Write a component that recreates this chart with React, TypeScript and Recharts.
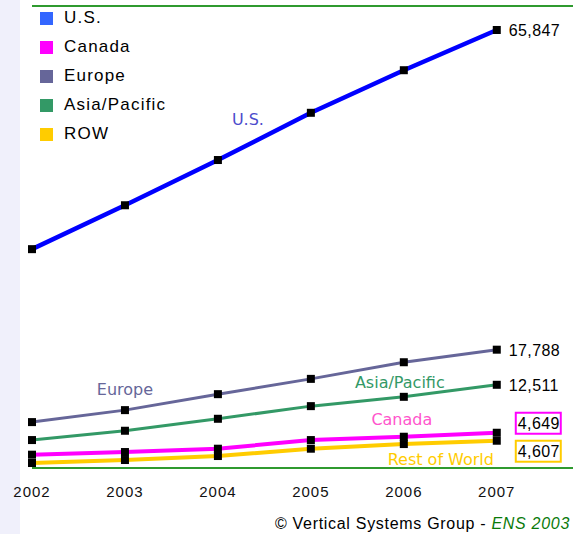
import React from "react";
import {
  LineChart,
  Line,
  XAxis,
  YAxis,
  ReferenceLine,
  LabelList,
} from "recharts";

const years = [2002, 2003, 2004, 2005, 2006, 2007];
const us = [32900, 39500, 46300, 53400, 59800, 65847];
const europe = [6900, 8700, 11100, 13400, 15900, 17788];
const asia = [4200, 5600, 7400, 9300, 10700, 12511];
const canada = [2000, 2400, 2900, 4200, 4700, 5300];
const row = [750, 1200, 1800, 2900, 3600, 4100];

const legendNames = ["U.S.", "Canada", "Europe", "Asia/Pacific", "ROW"];
const endLabels = ["65,847", "17,788", "12,511", "4,649", "4,607"];
const lineNames = ["U.S.", "Europe", "Asia/Pacific", "Canada", "Rest of World"];

const data = years.map((y, i) => ({
  year: y,
  us: us[i],
  europe: europe[i],
  asia: asia[i],
  canada: canada[i],
  row: row[i],
}));

const FRAME = "#2f9a2f";
const legendColors = ["#3366ff", "#ff00ff", "#666699", "#339966", "#ffcc00"];

const Dot = (props: any) => {
  const { cx, cy } = props;
  if (cx == null || cy == null) return null;
  return <rect x={cx - 4} y={cy - 4} width={8} height={8} fill="#000" />;
};

// label drawn next to the last point
const endLabel = (text: string, dy: number, box?: string) => (props: any) => {
  const { x, y, index } = props;
  if (index !== years.length - 1) return null;
  const tx = x + (box ? 21 : 12);
  const ty = y + dy;
  return (
    <g>
      {box && (
        <rect x={tx - 2} y={ty - 10} width={45} height={21} fill="#fff" stroke={box} strokeWidth={2} />
      )}
      <text
        x={tx}
        y={ty}
        dy={6}
        fontFamily="'Liberation Sans', Arial, sans-serif"
        fontSize={16}
        letterSpacing={0.4}
        fill="#000"
      >
        {text}
      </text>
    </g>
  );
};

// series name written beside the line
const nameLabel = (text: string, at: number, dx: number, dy: number, color: string) => (props: any) => {
  const { x, y, index } = props;
  if (index !== at) return null;
  return (
    <text
      x={x + dx}
      y={y + dy}
      textAnchor="middle"
      dominantBaseline="middle"
      fontFamily="'DejaVu Sans', Verdana, sans-serif"
      fontSize={16}
      fill={color}
    >
      {text}
    </text>
  );
};

export default function App() {
  return (
    <div
      style={{
        position: "absolute",
        left: 0,
        top: 0,
        width: 573,
        height: 534,
        background: "#fff",
        overflow: "hidden",
      }}
    >
      <div
        style={{
          position: "absolute",
          left: 0,
          top: 0,
          width: 20,
          height: 534,
          background: "#f0f0fb",
        }}
      />
      <LineChart
        width={573}
        height={534}
        data={data}
        margin={{ top: 6, right: 0, bottom: 36, left: 32 }}
      >
        <XAxis
          dataKey="year"
          type="number"
          domain={[2002, 2007.82]}
          ticks={years}
          tick={{
            fill: "#111",
            fontSize: 15,
            letterSpacing: 1,
            fontFamily: "'Liberation Sans', Arial, sans-serif",
          }}
          tickLine={false}
          tickSize={0}
          tickMargin={18}
          axisLine={{ stroke: FRAME, strokeWidth: 2 }}
          height={30}
        />
        <YAxis
          type="number"
          domain={[0, 69455]}
          width={0}
          tick={false}
          tickLine={false}
          axisLine={{ stroke: FRAME, strokeWidth: 2 }}
        />
        <ReferenceLine y={69455} stroke={FRAME} strokeWidth={2} />
        <Line dataKey="row" stroke="#ffcc00" strokeWidth={4} dot={<Dot />} isAnimationActive={false}>
          <LabelList content={endLabel(endLabels[4], 10, "#ffcc00")} />
          <LabelList content={nameLabel(lineNames[4], 4, 37, 16, "#ffcc00")} />
        </Line>
        <Line dataKey="canada" stroke="#ff00ff" strokeWidth={4} dot={<Dot />} isAnimationActive={false}>
          <LabelList content={endLabel(endLabels[3], -10, "#ff00ff")} />
          <LabelList content={nameLabel(lineNames[3], 4, -2, -16, "#ff55cc")} />
        </Line>
        <Line dataKey="asia" stroke="#339966" strokeWidth={3} dot={<Dot />} isAnimationActive={false}>
          <LabelList content={endLabel(endLabels[2], 0)} />
          <LabelList content={nameLabel(lineNames[2], 4, -4, -13, "#339966")} />
        </Line>
        <Line dataKey="europe" stroke="#666699" strokeWidth={3} dot={<Dot />} isAnimationActive={false}>
          <LabelList content={endLabel(endLabels[1], 0)} />
          <LabelList content={nameLabel(lineNames[1], 1, 0, -20, "#666699")} />
        </Line>
        <Line dataKey="us" stroke="#0000ff" strokeWidth={4.5} dot={<Dot />} isAnimationActive={false}>
          <LabelList content={endLabel(endLabels[0], 0)} />
          <LabelList content={nameLabel(lineNames[0], 2, 30, -40, "#4c4ccc")} />
        </Line>
      </LineChart>
      {legendNames.map((n, i) => (
        <div
          key={n}
          style={{
            position: "absolute",
            left: 40,
            top: 8 + i * 29,
            height: 20,
            display: "flex",
            alignItems: "center",
            fontFamily: "'Liberation Sans', Arial, sans-serif",
            fontSize: 17,
            letterSpacing: 1.2,
            color: "#000",
            whiteSpace: "nowrap",
          }}
        >
          <span
            style={{
              width: 13,
              height: 13,
              background: legendColors[i],
              display: "inline-block",
              marginRight: 11,
            }}
          />
          {n}
        </div>
      ))}
      <div
        style={{
          position: "absolute",
          right: 3,
          top: 515,
          fontFamily: "'Liberation Sans', Arial, sans-serif",
          fontSize: 16,
          letterSpacing: 0.7,
          color: "#000",
          whiteSpace: "nowrap",
        }}
      >
        © Vertical Systems Group -{" "}
        <span style={{ fontStyle: "italic", color: "#0a7a0a" }}>ENS 2003</span>
      </div>
    </div>
  );
}
